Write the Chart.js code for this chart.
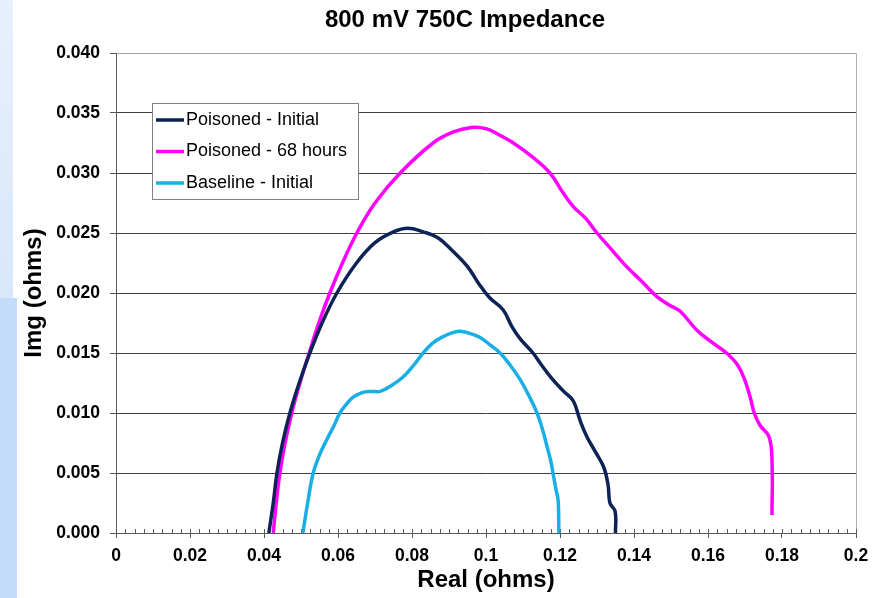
<!DOCTYPE html>
<html>
<head>
<meta charset="utf-8">
<script src="https://cdn.jsdelivr.net/npm/chart.js@4.4.1/dist/chart.umd.min.js"></script>
<style>
body{margin:0;background:#fff;}
#wrap{position:relative;width:879px;height:598px;}
.strip1{position:absolute;left:0;top:0;width:13px;height:298px;background:linear-gradient(#e8f0fc,#d8e7fa);}
.strip2{position:absolute;left:0;top:298px;width:17px;height:300px;background:#c3dcfa;}
canvas{position:absolute;left:0;top:0;}
</style>
</head>
<body>
<div id="wrap">
  <div class="strip1"></div>
  <div class="strip2"></div>
  <canvas id="impedanceChart" width="879" height="598"></canvas>
</div>
<script>
var chartTitle = '800 mV 750C Impedance';
var seriesNames = ['Poisoned - Initial', 'Poisoned - 68 hours', 'Baseline - Initial'];

// Poisoned - Initial
var poisonedInitX = [0.0413,0.0425,0.0435,0.0450,0.0470,0.0495,0.0524,0.0557,0.0597,0.0650,0.0700,0.0750,0.0789,0.0830,0.0870,0.0910,0.0950,0.0980,0.1010,0.1046,0.1070,0.1092,0.1127,0.1150,0.1180,0.1210,0.1236,0.1254,0.1273,0.1295,0.1318,0.1330,0.1335,0.1349,0.1350];
var poisonedInitY = [0,0.0025,0.0050,0.0075,0.0100,0.0125,0.0150,0.0175,0.0200,0.0225,0.0242,0.0251,0.0254,0.0251,0.0246,0.0235,0.0222,0.0208,0.0196,0.0186,0.0172,0.0162,0.0150,0.0140,0.0128,0.0118,0.0110,0.0094,0.0080,0.0068,0.0055,0.0040,0.0025,0.0018,0];

// Poisoned - 68 hours
var poisoned68X = [0.0425,0.0433,0.0443,0.0457,0.0475,0.0497,0.0522,0.0548,0.0578,0.0612,0.0651,0.0700,0.0768,0.0857,0.0910,0.0960,0.1000,0.1040,0.1074,0.1127,0.1173,0.1205,0.1236,0.1270,0.1300,0.1340,0.1380,0.1420,0.1462,0.1495,0.1524,0.1570,0.1610,0.1650,0.1680,0.1700,0.1715,0.1725,0.1740,0.1765,0.1773,0.1773];
var poisoned68Y = [0,0.0025,0.0050,0.0075,0.0100,0.0125,0.0150,0.0175,0.0200,0.0225,0.0250,0.0275,0.0300,0.0325,0.0334,0.0338,0.0337,0.0331,0.0325,0.0313,0.0300,0.0285,0.0272,0.0262,0.0250,0.0236,0.0222,0.0210,0.0197,0.0190,0.0185,0.0169,0.0159,0.0150,0.0140,0.0127,0.0112,0.0100,0.0090,0.0080,0.0060,0.0015];

// Baseline - Initial
var baselineX = [0.0505,0.0518,0.0533,0.0550,0.0570,0.0590,0.0605,0.0622,0.0640,0.0665,0.0690,0.0714,0.0745,0.0776,0.0805,0.0830,0.0855,0.0880,0.0910,0.0935,0.0960,0.0984,0.1010,0.1038,0.1065,0.1092,0.1115,0.1138,0.1152,0.1165,0.1175,0.1181,0.1190,0.1195,0.1197];
var baselineY = [0,0.0025,0.0050,0.0065,0.0078,0.0090,0.0100,0.0107,0.0113,0.0117,0.0118,0.0118,0.0123,0.0130,0.0140,0.0150,0.0158,0.0163,0.0167,0.0168,0.0166,0.0163,0.0157,0.0150,0.0140,0.0128,0.0115,0.0100,0.0087,0.0072,0.0060,0.0050,0.0035,0.0027,0];

var xMin = 0, xMax = 0.2, xStep = 0.02, xMinorStep = 0.0025;
var yMin = 0, yMax = 0.04, yStep = 0.005;

var fontFamily = '"Liberation Sans", Arial, sans-serif';

function toPoints(xs, ys){
    return xs.map(function(x, i){
        return {x: x, y: ys[i]};
    });
}

function makeSet(label, xs, ys, color){
    return {
        label: label,
        data: toPoints(xs, ys),
        showLine: true,
        borderColor: color,
        backgroundColor: color,
        borderWidth: 3.5,
        pointRadius: 0,
        tension: 0.4
    };
}

// minor ticks on the x axis
var minorTicks = {
    id: 'minorTicks',
    beforeDatasetsDraw: function(chart){
        var sx = chart.scales.x;
        var c = chart.ctx;
        var y0 = chart.chartArea.bottom;
        c.save();
        c.strokeStyle = '#595959';
        c.lineWidth = 1;
        c.beginPath();
        for (var v = xMin; v <= xMax + 1e-9; v += xMinorStep){
            var px = Math.round(sx.getPixelForValue(v)) + 0.5;
            c.moveTo(px, y0);
            c.lineTo(px, y0 - 4);
        }
        c.stroke();
        c.restore();
    }
};

var chartHeading = {
    id: 'chartHeading',
    afterDraw: function(chart, args, opts){
        var c = chart.ctx;
        c.save();
        c.fillStyle = '#000';
        c.font = 'bold 24px ' + fontFamily;
        c.textAlign = 'center';
        c.textBaseline = 'middle';
        c.fillText(opts.text, opts.x, opts.y);
        c.restore();
    }
};

var boxLegend = {
    id: 'boxLegend',
    afterDraw: function(chart, args, opts){
        var c = chart.ctx;
        c.save();
        c.fillStyle = '#fff';
        c.fillRect(opts.left, opts.top, opts.width, opts.height);
        c.strokeStyle = '#808080';
        c.lineWidth = 1;
        c.strokeRect(opts.left + 0.5, opts.top + 0.5, opts.width, opts.height);
        c.font = '18px ' + fontFamily;
        c.textBaseline = 'middle';
        chart.data.datasets.forEach(function(ds, i){
            var y = opts.top + 17 + i * 31.5;
            c.strokeStyle = ds.borderColor;
            c.lineWidth = 3.5;
            c.beginPath();
            c.moveTo(opts.left + 4, y);
            c.lineTo(opts.left + 32, y);
            c.stroke();
            c.fillStyle = '#000';
            c.fillText(ds.label, opts.left + 34, y);
        });
        c.restore();
    }
};

var ctx = document.getElementById('impedanceChart');

var chart = new Chart(ctx, {
    type: 'scatter',
    data: {
        datasets: [
            makeSet(seriesNames[0], poisonedInitX, poisonedInitY, '#0d2356'),
            makeSet(seriesNames[1], poisoned68X, poisoned68Y, '#ff00ff'),
            makeSet(seriesNames[2], baselineX, baselineY, '#1aaee6')
        ]
    },
    options: {
        responsive: false,
        animation: false,
        layout: {
            padding: {top: 53, right: 23, bottom: 0, left: 0}
        },
        plugins: {
            legend: {display: false},
            tooltip: {enabled: false},
            title: {display: false},
            chartHeading: {text: chartTitle, x: 465, y: 20},
            boxLegend: {left: 152, top: 103, width: 206, height: 96}
        },
        scales: {
            x: {
                type: 'linear',
                min: xMin,
                max: xMax,
                afterFit: function(scale){ scale.height = 65; },
                border: {display: true, color: '#595959', width: 1},
                grid: {
                    drawOnChartArea: true,
                    color: function(c){
                        return Math.abs(c.tick.value - xMax) < 1e-9 ? '#b0b0b0' : 'rgba(0,0,0,0)';
                    },
                    tickColor: '#595959',
                    tickLength: 5
                },
                ticks: {
                    stepSize: xStep,
                    padding: 8,
                    color: '#000',
                    font: {size: 17.5, weight: 'bold', family: fontFamily},
                    maxRotation: 0,
                    callback: function(v){
                        return v === 0 ? '0' : String(parseFloat(v.toFixed(2)));
                    }
                },
                title: {
                    display: true,
                    text: 'Real (ohms)',
                    color: '#000',
                    font: {size: 24, weight: 'bold', family: fontFamily},
                    padding: {top: 0, bottom: 3}
                }
            },
            y: {
                type: 'linear',
                min: yMin,
                max: yMax,
                afterFit: function(scale){ scale.width = 116; },
                border: {display: true, color: '#595959', width: 1},
                grid: {
                    color: function(c){
                        return Math.abs(c.tick.value - yMax) < 1e-9 ? '#a6a6a6' : '#404040';
                    },
                    tickColor: '#595959',
                    tickLength: 6
                },
                ticks: {
                    stepSize: yStep,
                    padding: 10,
                    color: '#000',
                    font: {size: 17.5, weight: 'bold', family: fontFamily},
                    callback: function(v){ return v.toFixed(3); }
                },
                title: {
                    display: true,
                    text: 'Img (ohms)',
                    color: '#000',
                    font: {size: 24, weight: 'bold', family: fontFamily},
                    padding: {top: 20, bottom: 0}
                }
            }
        }
    },
    plugins: [minorTicks, chartHeading, boxLegend]
});
</script>
</body>
</html>
